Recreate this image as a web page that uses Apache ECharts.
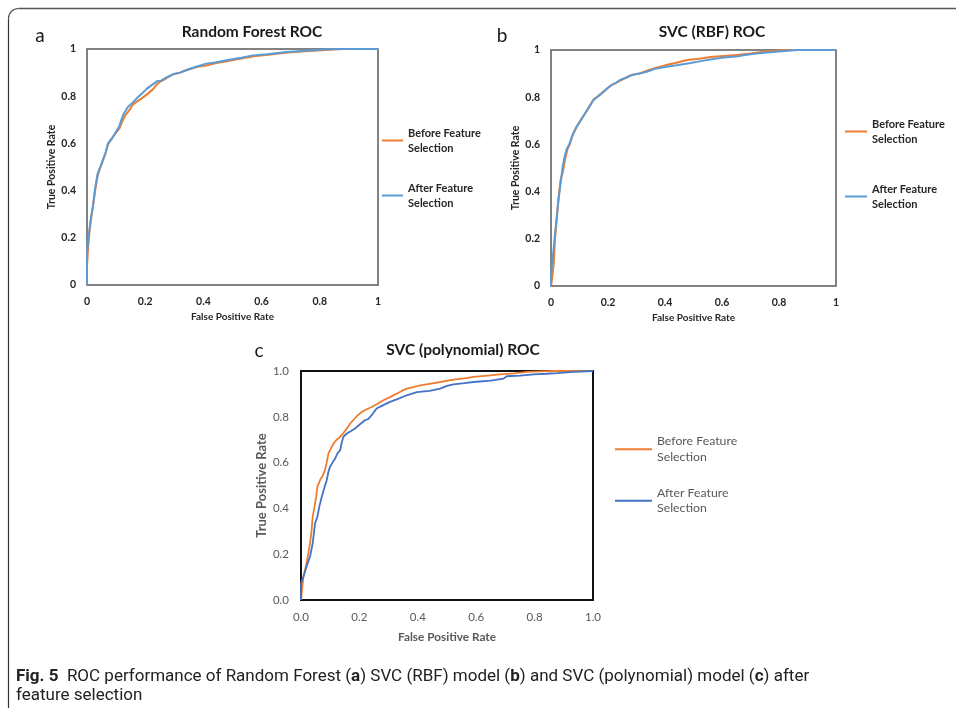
<!DOCTYPE html>
<html>
<head>
<meta charset="utf-8">
<script src="https://cdn.jsdelivr.net/npm/echarts@6/dist/echarts.min.js"></script>
<style>
  html, body { margin: 0; padding: 0; background: #fff; }
  #chart { width: 956px; height: 708px; }
</style>
</head>
<body>
<div id="chart"></div>
<script>
// ROC curve points, [false positive rate, true positive rate]
const rfBefore = [
  [0,0],[0,0.08],[0.004,0.16],[0.008,0.22],[0.014,0.28],[0.02,0.33],[0.028,0.4],[0.036,0.46],
  [0.046,0.5],[0.055,0.53],[0.064,0.56],[0.072,0.595],[0.085,0.62],[0.1,0.645],[0.112,0.665],
  [0.12,0.69],[0.132,0.72],[0.145,0.74],[0.158,0.765],[0.175,0.78],[0.193,0.795],[0.21,0.812],
  [0.227,0.83],[0.24,0.85],[0.252,0.862],[0.273,0.876],[0.296,0.893],[0.32,0.9],[0.345,0.912],
  [0.38,0.925],[0.41,0.93],[0.44,0.94],[0.48,0.948],[0.53,0.96],[0.58,0.97],[0.63,0.977],
  [0.69,0.985],[0.75,0.99],[0.82,0.996],[0.88,1],[1,1]
];
const rfAfter = [
  [0,0],[0,0.14],[0.004,0.18],[0.007,0.22],[0.013,0.28],[0.02,0.33],[0.028,0.41],[0.036,0.47],
  [0.046,0.5],[0.055,0.53],[0.064,0.56],[0.072,0.6],[0.085,0.62],[0.095,0.64],[0.11,0.67],
  [0.124,0.72],[0.141,0.755],[0.155,0.77],[0.17,0.79],[0.188,0.81],[0.204,0.83],[0.221,0.846],
  [0.24,0.863],[0.255,0.866],[0.273,0.88],[0.296,0.893],[0.32,0.9],[0.34,0.91],[0.375,0.925],
  [0.41,0.938],[0.44,0.943],[0.48,0.952],[0.53,0.963],[0.571,0.973],[0.62,0.978],[0.686,0.987],
  [0.74,0.992],[0.8,0.997],[0.85,1],[1,1]
];
const rbfBefore = [
  [0,0],[0.004,0.03],[0.01,0.1],[0.014,0.2],[0.02,0.28],[0.026,0.37],[0.034,0.45],[0.041,0.48],
  [0.05,0.54],[0.058,0.58],[0.066,0.6],[0.075,0.64],[0.09,0.675],[0.105,0.705],[0.119,0.73],
  [0.135,0.76],[0.149,0.79],[0.165,0.805],[0.18,0.82],[0.2,0.84],[0.213,0.852],[0.23,0.862],
  [0.25,0.875],[0.283,0.894],[0.31,0.9],[0.336,0.912],[0.37,0.925],[0.4,0.935],[0.44,0.946],
  [0.477,0.958],[0.52,0.963],[0.56,0.97],[0.605,0.975],[0.65,0.979],[0.7,0.985],[0.746,0.993],
  [0.79,0.997],[0.84,1],[1,1]
];
const rbfAfter = [
  [0,0],[0,0.05],[0.007,0.13],[0.014,0.22],[0.02,0.29],[0.026,0.36],[0.034,0.44],[0.041,0.505],
  [0.048,0.55],[0.055,0.58],[0.064,0.6],[0.073,0.63],[0.09,0.675],[0.104,0.7],[0.119,0.73],
  [0.134,0.76],[0.149,0.788],[0.165,0.803],[0.178,0.816],[0.195,0.835],[0.213,0.852],[0.23,0.862],
  [0.242,0.873],[0.262,0.882],[0.283,0.894],[0.31,0.9],[0.336,0.908],[0.365,0.92],[0.395,0.927],
  [0.441,0.935],[0.49,0.945],[0.535,0.955],[0.57,0.962],[0.605,0.968],[0.65,0.972],[0.676,0.978],
  [0.72,0.985],[0.769,0.99],[0.82,0.996],[0.863,1],[1,1]
];
const polyBefore = [
  [0,0],[0.004,0.05],[0.008,0.1],[0.019,0.16],[0.031,0.247],[0.036,0.3],[0.04,0.363],[0.048,0.42],
  [0.052,0.45],[0.056,0.494],[0.065,0.523],[0.075,0.545],[0.082,0.567],[0.088,0.6],[0.094,0.64],
  [0.102,0.66],[0.111,0.683],[0.122,0.7],[0.134,0.712],[0.146,0.73],[0.157,0.749],[0.168,0.77],
  [0.179,0.785],[0.193,0.805],[0.208,0.821],[0.225,0.833],[0.242,0.843],[0.262,0.857],[0.282,0.872],
  [0.305,0.886],[0.328,0.901],[0.345,0.913],[0.362,0.923],[0.385,0.93],[0.408,0.937],[0.44,0.944],
  [0.477,0.952],[0.522,0.962],[0.56,0.968],[0.59,0.974],[0.64,0.98],[0.682,0.985],[0.73,0.99],
  [0.774,0.996],[0.82,0.998],[0.865,1],[1,1]
];
const polyAfter = [
  [0,0],[0,0.073],[0.008,0.1],[0.02,0.15],[0.031,0.19],[0.04,0.247],[0.045,0.3],[0.048,0.334],
  [0.056,0.363],[0.063,0.41],[0.071,0.45],[0.08,0.49],[0.088,0.523],[0.094,0.56],[0.099,0.581],
  [0.108,0.6],[0.117,0.618],[0.125,0.64],[0.134,0.654],[0.14,0.69],[0.145,0.712],[0.157,0.727],
  [0.17,0.737],[0.185,0.749],[0.2,0.765],[0.219,0.785],[0.23,0.79],[0.242,0.807],[0.259,0.836],
  [0.28,0.85],[0.305,0.865],[0.33,0.877],[0.362,0.894],[0.397,0.908],[0.44,0.913],[0.477,0.923],
  [0.5,0.935],[0.522,0.942],[0.56,0.947],[0.59,0.952],[0.65,0.958],[0.694,0.967],[0.705,0.977],
  [0.75,0.98],[0.797,0.985],[0.84,0.988],[0.877,0.991],[0.934,0.996],[1,1]
];

const panelTitles = ['Random Forest ROC', 'SVC (RBF) ROC', 'SVC (polynomial) ROC'];
const panelLetters = ['a', 'b', 'c'];
const seriesNames = ['Before Feature\nSelection', 'After Feature\nSelection'];
const xAxisName = 'False Positive Rate';
const yAxisName = 'True Positive Rate';

const ORANGE = '#ED7D31';
const LIGHT_BLUE = '#5B9BD5';
const BLUE = '#4472C4';
const chartFont = 'Lato';
const captionFont = '"Liberation Sans Narrow", Roboto, sans-serif';

const chart = echarts.init(document.getElementById('chart'), null, { renderer: 'canvas' });

function tickText(v, decimals) {
  return decimals ? v.toFixed(1) : String(+v.toFixed(1));
}
function xAxisFor(gridIndex, boldText, decimals, labelMargin, nameGap, nameSize, color) {
  return {
    type: 'value', gridIndex, min: 0, max: 1, interval: 0.2,
    name: xAxisName, nameLocation: 'middle', nameGap,
    nameTextStyle: { fontFamily: chartFont, fontWeight: 'bold', fontSize: nameSize, color },
    axisLine: { show: false }, axisTick: { show: false }, splitLine: { show: false },
    axisLabel: {
      margin: labelMargin, fontFamily: chartFont, fontWeight: boldText ? 'bold' : 'normal',
      fontSize: boldText ? 10.5 : 11.5, color, formatter: v => tickText(v, decimals)
    }
  };
}
function yAxisFor(gridIndex, boldText, decimals, labelMargin, nameGap, nameSize, color) {
  return {
    type: 'value', gridIndex, min: 0, max: 1, interval: 0.2,
    name: yAxisName, nameLocation: 'middle', nameGap,
    nameTextStyle: { fontFamily: chartFont, fontWeight: 'bold', fontSize: nameSize, color },
    axisLine: { show: false }, axisTick: { show: false }, splitLine: { show: false },
    axisLabel: {
      margin: labelMargin, fontFamily: chartFont, fontWeight: boldText ? 'bold' : 'normal',
      fontSize: boldText ? 10.5 : 11.5, color, formatter: v => tickText(v, decimals)
    }
  };
}
function rocSeries(name, idx, data, color, width) {
  return {
    type: 'line', name, xAxisIndex: idx, yAxisIndex: idx, data,
    showSymbol: false, symbol: 'none', smooth: false,
    lineStyle: { color, width }, itemStyle: { color }, z: name === seriesNames[1] ? 3 : 2,
    emphasis: { disabled: true }
  };
}
function legendFor(left, top, gap, textColor, bold, fontSize, lineHeight, iconW, afterColor) {
  return {
    left, top, padding: 0, orient: 'vertical', itemGap: gap, itemWidth: iconW, itemHeight: 2,
    icon: 'rect', selectedMode: false,
    data: [
      { name: seriesNames[0], itemStyle: { color: ORANGE } },
      { name: seriesNames[1], itemStyle: { color: afterColor } }
    ],
    textStyle: {
      fontFamily: chartFont, fontWeight: bold ? 'bold' : 'normal', fontSize, color: textColor,
      lineHeight, padding: [lineHeight, 0, 0, 0]
    }
  };
}

const darkText = '#262626';
const greyText = '#595959';

function label(x, y, text, font) {
  return { type: 'text', x, y, silent: true,
    style: { text, align: 'center', verticalAlign: 'middle', font, fill: '#1a1a1a' } };
}

const option = {
  backgroundColor: '#fff',
  animation: false,
  grid: [
    { left: 87, top: 49, width: 291, height: 236, show: true, borderColor: '#595959', borderWidth: 1.5, backgroundColor: 'transparent' },
    { left: 551, top: 50, width: 285, height: 236, show: true, borderColor: '#595959', borderWidth: 1.5, backgroundColor: 'transparent' },
    { left: 301, top: 371, width: 292, height: 229, show: true, borderColor: '#111', borderWidth: 2, backgroundColor: 'transparent' }
  ],
  xAxis: [
    xAxisFor(0, true, false, 11, 27, 10, darkText),
    xAxisFor(1, true, false, 11, 27, 10, darkText),
    xAxisFor(2, false, true, 11, 31, 11.8, greyText)
  ],
  yAxis: [
    yAxisFor(0, true, false, 11, 30, 10.5, darkText),
    yAxisFor(1, true, false, 11, 30, 10.5, darkText),
    yAxisFor(2, false, true, 12, 33, 13, greyText)
  ],
  legend: [
    legendFor(382, 118, 10, darkText, true, 11, 15, 21, LIGHT_BLUE),
    legendFor(845, 109, 20, darkText, true, 11, 15, 22, LIGHT_BLUE),
    legendFor(615, 426, 5, greyText, false, 12.3, 15.5, 37, BLUE)
  ],
  series: [
    rocSeries(seriesNames[0], 0, rfBefore, ORANGE, 2),
    rocSeries(seriesNames[1], 0, rfAfter, LIGHT_BLUE, 2),
    rocSeries(seriesNames[0], 1, rbfBefore, ORANGE, 2),
    rocSeries(seriesNames[1], 1, rbfAfter, LIGHT_BLUE, 2),
    rocSeries(seriesNames[0], 2, polyBefore, ORANGE, 1.8),
    rocSeries(seriesNames[1], 2, polyAfter, BLUE, 1.8)
  ],
  graphic: [
    // outer figure frame: top and left edges joined by a rounded corner
    { type: 'line', silent: true, shape: { x1: 18.5, y1: 8.5, x2: 956, y2: 8.5 }, style: { stroke: '#555', lineWidth: 1.3 } },
    { type: 'line', silent: true, shape: { x1: 8.5, y1: 18.5, x2: 8.5, y2: 708 }, style: { stroke: '#333', lineWidth: 1.2 } },
    { type: 'arc', silent: true, shape: { cx: 18.5, cy: 18.5, r: 10, startAngle: Math.PI, endAngle: Math.PI * 1.5, clockwise: true },
      style: { stroke: '#444', lineWidth: 1.2, fill: null } },
    // panel titles and letters
    label(252, 32, panelTitles[0], 'bold 15.5px ' + chartFont),
    label(712, 32, panelTitles[1], 'bold 15.5px ' + chartFont),
    label(463, 350, panelTitles[2], 'bold 15.5px ' + chartFont),
    label(40, 36, panelLetters[0], '19px ' + chartFont),
    label(502, 36, panelLetters[1], '19px ' + chartFont),
    label(259, 351, panelLetters[2], '19px ' + chartFont),
    // figure caption
    { type: 'text', x: 16, y: 677, silent: true, style: {
        text: '{b|Fig. 5}  ROC performance of Random Forest ({b|a}) SVC (RBF) model ({b|b}) and SVC (polynomial) model ({b|c}) after',
        verticalAlign: 'middle', font: '17px ' + captionFont, fill: '#222',
        rich: { b: { fontWeight: 'bold', fontFamily: captionFont, fontSize: 17, fill: '#222' } }
      } },
    { type: 'text', x: 16, y: 696, silent: true, style: { text: 'feature selection', verticalAlign: 'middle', font: '17px ' + captionFont, fill: '#222' } }
  ]
};

chart.setOption(option);
</script>
</body>
</html>
